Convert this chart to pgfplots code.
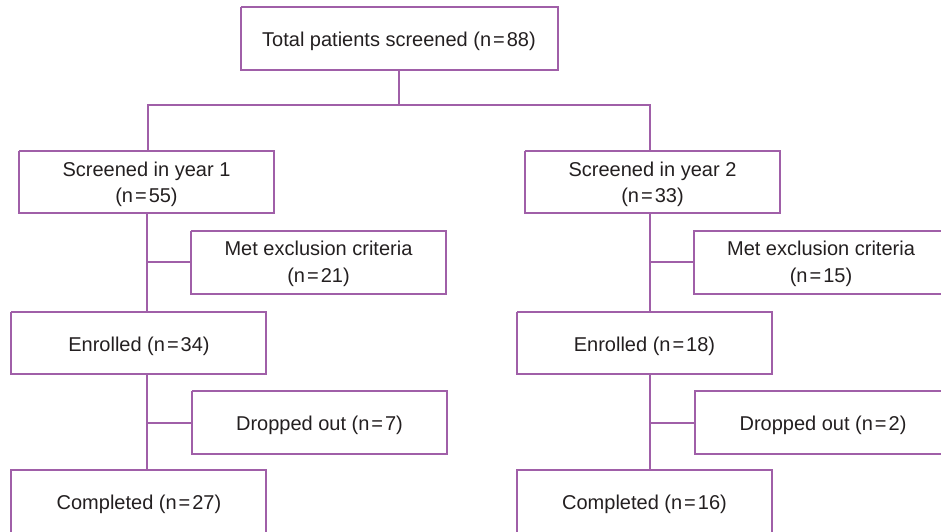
\documentclass[border=0pt]{standalone}
\usepackage{pgfplots}
\pgfplotsset{compat=1.18}
\usepackage{fontspec}
\setmainfont{Liberation Sans}
\definecolor{fc}{RGB}{160,95,168}
\definecolor{tc}{RGB}{35,31,32}
\newcommand{\eq}{\kern2pt=\kern2pt}
\begin{document}
\begin{tikzpicture}
\begin{axis}[
  width=941pt, height=531pt, scale only axis,
  xmin=0, xmax=941, ymin=0, ymax=531, y dir=reverse,
  axis lines=none, ticks=none, clip=true,
  fl/.style={color=fc, solid, line width=1.3pt, mark=none},
  nodes={font=\fontsize{20}{24}\selectfont, text=tc, anchor=base, inner sep=0pt},
]
% boxes (pixel coordinates)
\addplot[fl] coordinates {(241,7) (558,7) (558,70) (241,70) (241,7)};
\addplot[fl] coordinates {(19,151) (274,151) (274,213) (19,213) (19,151)};
\addplot[fl] coordinates {(191,231) (446,231) (446,294) (191,294) (191,231)};
\addplot[fl] coordinates {(11,312) (266,312) (266,374) (11,374) (11,312)};
\addplot[fl] coordinates {(192,391) (447,391) (447,454) (192,454) (192,391)};
\addplot[fl] coordinates {(11,535) (11,470) (266,470) (266,535)};
\addplot[fl] coordinates {(525,151) (780,151) (780,213) (525,213) (525,151)};
\addplot[fl] coordinates {(948,231) (694,231) (694,294) (948,294)};
\addplot[fl] coordinates {(517,312) (772,312) (772,374) (517,374) (517,312)};
\addplot[fl] coordinates {(952,391) (695,391) (695,454) (952,454)};
\addplot[fl] coordinates {(517,535) (517,470) (772,470) (772,535)};
% connectors
\addplot[fl] coordinates {(399,70) (399,105)};
\addplot[fl] coordinates {(148,151) (148,105) (650,105) (650,151)};
\addplot[fl] coordinates {(147,213) (147,312)};
\addplot[fl] coordinates {(147,262) (191,262)};
\addplot[fl] coordinates {(147,374) (147,470)};
\addplot[fl] coordinates {(147,423) (192,423)};
\addplot[fl] coordinates {(650,213) (650,312)};
\addplot[fl] coordinates {(650,262) (694,262)};
\addplot[fl] coordinates {(650,374) (650,470)};
\addplot[fl] coordinates {(650,423) (695,423)};
% texts
\node at (axis cs:399,46.5) {Total patients screened (n\eq88)};
\node at (axis cs:146.5,176) {Screened in year 1};
\node at (axis cs:146.5,202) {(n\eq55)};
\node at (axis cs:318.5,255.5) {Met exclusion criteria};
\node at (axis cs:318.5,282.5) {(n\eq21)};
\node at (axis cs:139,351) {Enrolled (n\eq34)};
\node at (axis cs:319.5,430) {Dropped out (n\eq7)};
\node at (axis cs:139,509) {Completed (n\eq27)};
\node at (axis cs:652.5,176) {Screened in year 2};
\node at (axis cs:652.5,202) {(n\eq33)};
\node at (axis cs:821,255.5) {Met exclusion criteria};
\node at (axis cs:821,282.5) {(n\eq15)};
\node at (axis cs:644.5,351) {Enrolled (n\eq18)};
\node at (axis cs:823,430) {Dropped out (n\eq2)};
\node at (axis cs:644.5,509) {Completed (n\eq16)};
\end{axis}
\pgfresetboundingbox
\path (current axis.south west) rectangle (current axis.north east);
\end{tikzpicture}
\end{document}
